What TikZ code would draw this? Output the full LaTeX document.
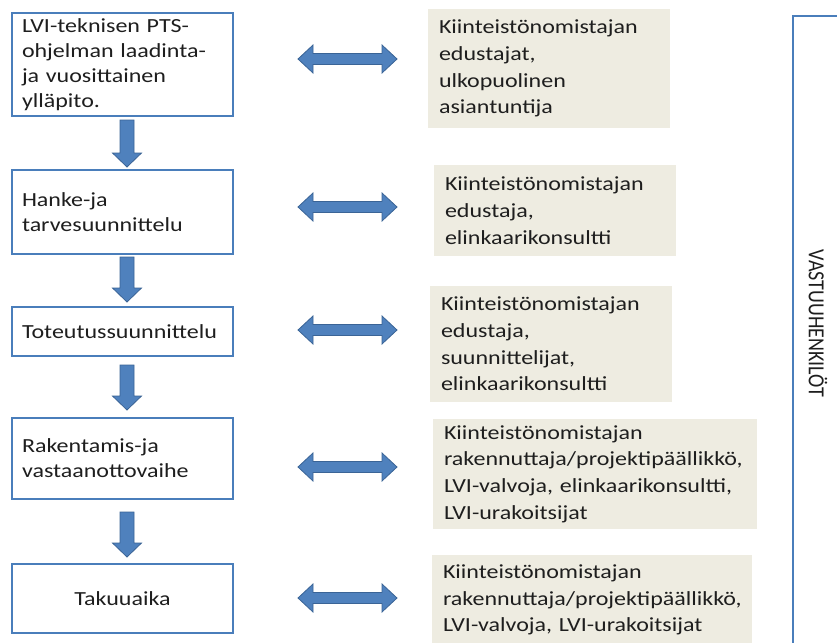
\documentclass[tikz,border=0pt]{standalone}
\usepackage{fontspec}
\setmainfont{Carlito}[FakeStretch=1.2]
\newfontfamily\plainfont{Carlito}
\definecolor{boxline}{HTML}{4A7EBB}
\definecolor{arrfill}{HTML}{4F81BD}
\definecolor{arrline}{HTML}{3A6496}
\definecolor{beige}{HTML}{EEECE1}
\definecolor{txt}{HTML}{1E1E1E}
\begin{document}
\begin{tikzpicture}[x=1pt,y=-1pt,
  stagebox/.style={draw=boxline, line width=1.3pt, fill=white, minimum width=221pt,
    inner xsep=10pt, inner ysep=0pt, text width=201pt, align=left, text=txt,
    font=\fontsize{20}{25}\selectfont},
  infobox/.style={fill=beige, inner xsep=11pt, inner ysep=0pt, align=left, text=txt,
    font=\fontsize{20}{26.7}\selectfont},
  blockarrow/.style={fill=arrfill, draw=arrline, line width=0.8pt, line join=miter},
  pics/darr/.style={code={
    \path[blockarrow] (-7,0) -- (7,0) -- (7,#1-14) -- (14.5,#1-14) -- (0,#1)
      -- (-14.5,#1-14) -- (-7,#1-14) -- cycle;}},
  pics/dblarr/.style={code={
    \path[blockarrow] (-49.5,0) -- (-34.5,-14) -- (-34.5,-5.5) -- (34.5,-5.5)
      -- (34.5,-14) -- (49.5,0) -- (34.5,14) -- (34.5,5.5) -- (-34.5,5.5)
      -- (-34.5,14) -- cycle;}}
]
\useasboundingbox (0,0) rectangle (837,642);
\clip (0,0) rectangle (837,642);
\fill[white] (0,0) rectangle (837,642);

% left stage boxes
\node[stagebox, minimum height=103pt] (b1) at (122.5,64.5)
  {LVI-teknisen PTS-\\ohjelman laadinta-\\ja vuosittainen\\ylläpito.};
\node[stagebox, minimum height=84pt] (b2) at (122.5,212)
  {Hanke-ja\\tarvesuunnittelu};
\node[stagebox, minimum height=49pt] (b3) at (122.5,331.5)
  {Toteutussuunnittelu};
\node[stagebox, minimum height=81pt] (b4) at (122.5,458.5)
  {Rakentamis-ja\\vastaanottovaihe};
\node[stagebox, minimum height=69pt, align=center] (b5) at (122.5,598.5)
  {Takuuaika};

% down arrows
\pic at (127,120) {darr=47};
\pic at (127,257) {darr=45};
\pic at (127,365) {darr=45};
\pic at (127,512) {darr=45};

% double arrows
\pic at (347.5,59) {dblarr};
\pic at (347.5,207) {dblarr};
\pic at (347.5,330) {dblarr};
\pic at (347.5,467) {dblarr};
\pic at (347.5,598) {dblarr};

% right info boxes
\node[infobox, minimum width=242pt, minimum height=119pt, text width=220pt] (r1) at (549,68.5)
  {Kiinteistönomistajan\\edustajat,\\ulkopuolinen\\asiantuntija};
\node[infobox, minimum width=242pt, minimum height=91pt, text width=220pt] (r2) at (555,210.5)
  {Kiinteistönomistajan\\edustaja,\\elinkaarikonsultti};
\node[infobox, minimum width=242pt, minimum height=116pt, text width=220pt] (r3) at (551,344)
  {Kiinteistönomistajan\\edustaja,\\suunnittelijat,\\elinkaarikonsultti};
\node[infobox, minimum width=324pt, minimum height=110pt, text width=302pt] (r4) at (595,474)
  {Kiinteistönomistajan\\rakennuttaja/projektipäällikkö,\\LVI-valvoja, elinkaarikonsultti,\\LVI-urakoitsijat};
\node[infobox, minimum width=320pt, minimum height=90pt, text width=298pt] (r5) at (592,600)
  {Kiinteistönomistajan\\rakennuttaja/projektipäällikkö,\\LVI-valvoja, LVI-urakoitsijat};

% responsible persons box
\draw[boxline, line width=1.3pt] (793,16) rectangle (860,670);
\node[rotate=-90, text=txt, font=\plainfont\fontsize{20}{22}\selectfont] (vh) at (818,323.5)
  {\scalebox{1}[1.15]{VASTUUHENKILÖT}};
\end{tikzpicture}
\end{document}
